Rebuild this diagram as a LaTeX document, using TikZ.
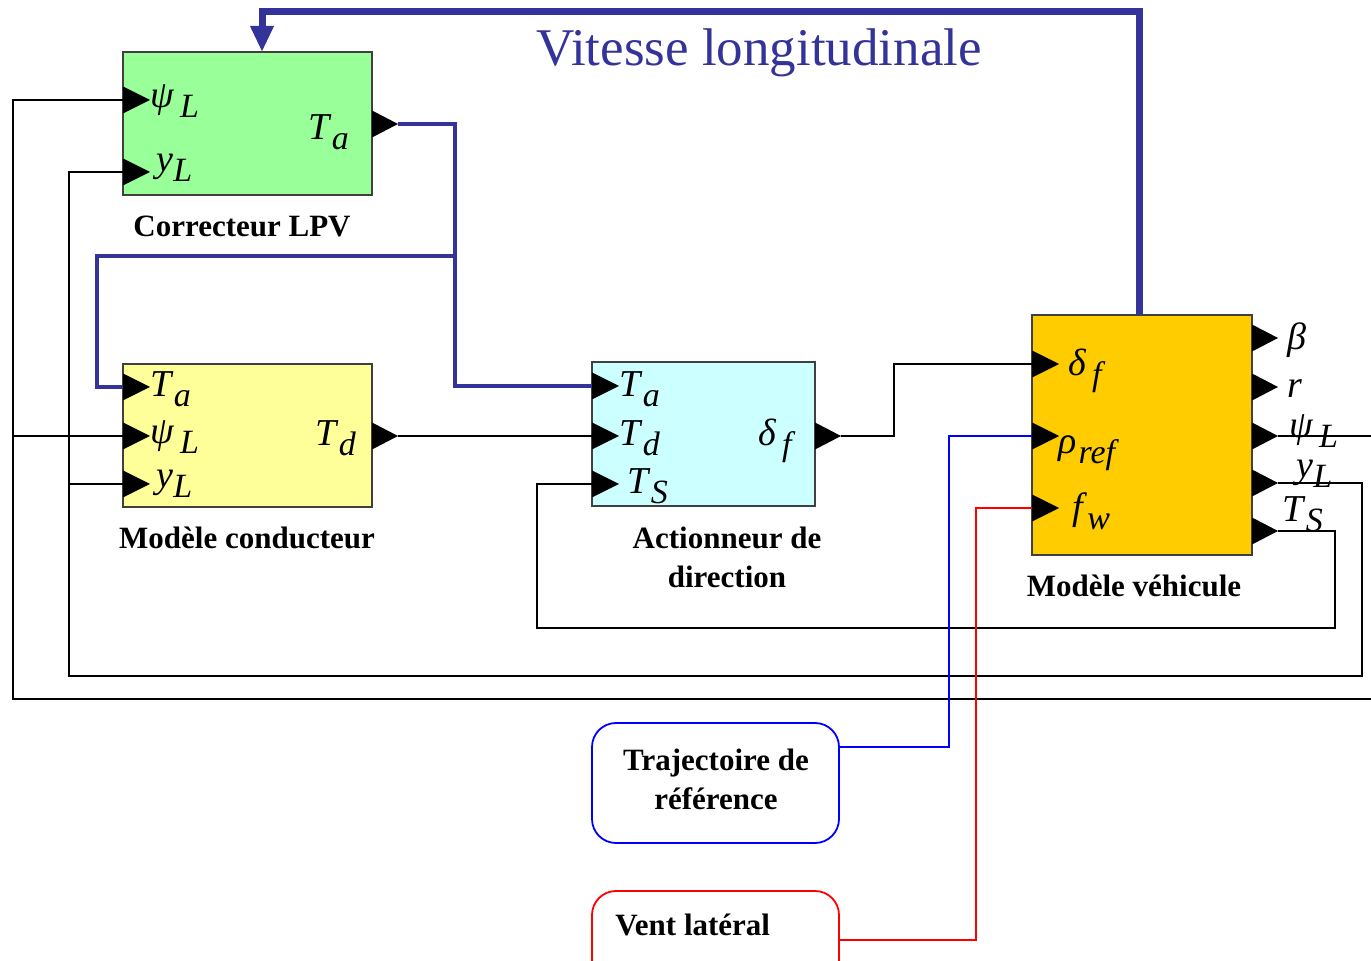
\documentclass[tikz,border=0pt]{standalone}
\usepackage{fontspec}
\setmainfont{Liberation Serif}
\usetikzlibrary{arrows.meta}
\definecolor{cgreen}{HTML}{99FF99}
\definecolor{cyellow}{HTML}{FFFF99}
\definecolor{ccyan}{HTML}{CCFFFF}
\definecolor{corange}{HTML}{FFCC00}
\definecolor{navy}{HTML}{333399}
\definecolor{pblue}{HTML}{0000FF}
\definecolor{pred}{HTML}{FF0000}
\newcommand\ms[2]{\textit{#1}\raisebox{-5pt}{\fontsize{17}{17}\selectfont\textit{#2}}}
\newcommand\pinR[3]{\coordinate (#1) at (#2,#3); \fill (#2,#3-13.5) -- (#2+27,#3) -- (#2,#3+13.5) -- cycle;}
\newcommand\poutR[3]{\coordinate (#1) at (#2+26,#3); \fill (#2,#3-13.5) -- (#2+26,#3) -- (#2,#3+13.5) -- cycle;}
\tikzset{
  blk/.style={draw=black!75, line width=0.8pt, inner sep=0pt, outer sep=0pt},
  srcbox/.style={line width=0.9pt, rounded corners=12pt, inner sep=0pt, outer sep=0pt, minimum width=123.5pt},
  wire/.style={line width=1pt, draw=black},
  bus/.style={line width=2.3pt, draw=navy},
  lbl/.style={font=\fontsize{19}{19}\selectfont, inner sep=0pt, anchor=base west},
  captxt/.style={font=\fontsize{15.5}{19.5}\selectfont\bfseries, inner sep=0pt, align=center}
}
\begin{document}
\begin{tikzpicture}[x=0.5pt,y=-0.5pt]
\useasboundingbox (0,0) rectangle (1371,961);
% blocks
\node[blk, fill=cgreen, minimum width=124.5pt, minimum height=71.5pt] (cor) at (247.5,123.5) {};
\node[blk, fill=cyellow, minimum width=124.5pt, minimum height=71.5pt] (con) at (247.5,435.5) {};
\node[blk, fill=ccyan, minimum width=111.5pt, minimum height=72pt] (act) at (703.5,434) {};
\node[blk, fill=corange, minimum width=110pt, minimum height=120pt] (veh) at (1142,435) {};
\node[srcbox, draw=pblue, minimum height=60pt] (traj) at (715.5,783) {};
\node[srcbox, draw=pred, minimum height=47pt] (vent) at (715.5,938) {};
% captions
\node[captxt] (capcor) at (242,226) {Correcteur LPV};
\node[captxt] (capcon) at (247,538) {Modèle conducteur};
\node[captxt] (capact) at (727,557) {Actionneur de\\direction};
\node[captxt] (capveh) at (1134,586) {Modèle véhicule};
\node[captxt] (captraj) at (716,779) {Trajectoire de\\référence};
\node[captxt, anchor=west] (capvent) at (615,925) {Vent latéral};
\node[font=\fontsize{26.5}{26.5}\selectfont, text=navy, inner sep=0pt, anchor=base] (vit) at (759,66) {Vitesse longitudinale};
% ports
\pinR{cor-psi}{123}{100} \pinR{cor-y}{123}{172} \poutR{cor-Ta}{372}{124}
\pinR{con-Ta}{123}{387} \pinR{con-psi}{123}{436} \pinR{con-y}{123}{484} \poutR{con-Td}{372}{436}
\pinR{act-Ta}{592}{386} \pinR{act-Td}{592}{436} \pinR{act-Ts}{592}{484} \poutR{act-df}{815}{436}
\pinR{veh-df}{1032}{364} \pinR{veh-rho}{1032}{436} \pinR{veh-fw}{1032}{508}
\poutR{veh-b}{1252}{338} \poutR{veh-r}{1252}{387} \poutR{veh-psi}{1252}{436} \poutR{veh-y}{1252}{483} \poutR{veh-Ts}{1252}{531}
% labels
\node[lbl] at (150,108) {\ms{ψ\kern3pt}{L}};
\node[lbl] at (156,172) {\ms{y}{L}};
\node[lbl] at (308,140) {\ms{T}{a}};
\node[lbl] at (150,397) {\ms{T}{a}};
\node[lbl] at (150,444) {\ms{ψ\kern3pt}{L}};
\node[lbl] at (156,488) {\ms{y}{L}};
\node[lbl] at (315,446) {\ms{T}{d}};
\node[lbl] at (619,397) {\ms{T}{a}};
\node[lbl] at (619,446) {\ms{T}{d}};
\node[lbl] at (627,494) {\ms{T}{S}};
\node[lbl] at (758,446) {\ms{δ\kern3pt}{f}};
\node[lbl] at (1068,376) {\ms{δ\kern3pt}{f}};
\node[lbl] at (1058,454) {\ms{ρ\kern1pt}{ref}};
\node[lbl] at (1072,520) {\ms{f}{w}};
\node[lbl] at (1287,350) {\textit{β}};
\node[lbl] at (1287,398) {\textit{r}};
\node[lbl] at (1289,438) {\ms{ψ\kern3pt}{L}};
\node[lbl] at (1296,478) {\ms{y}{L}};
\node[lbl] at (1282,522) {\ms{T}{S}};
% coordinates for free ends / corners
\coordinate (eR1) at (1371,436);
\coordinate (eR2) at (1371,699);
% black wires
\draw[wire] (cor-psi) -- (13,100) |- (eR2);
\draw[wire] (13,436) -- (con-psi);
\draw[wire] (veh-psi) -- (eR1);
\draw[wire] (veh-y) -- (1362,483) |- (69,676) |- (cor-y);
\draw[wire] (69,484) -- (con-y);
\draw[wire] (veh-Ts) -- (1335,531) |- (537,628) |- (act-Ts);
\draw[wire] (con-Td) -- (act-Td);
\draw[wire] (act-df) -- (894,436) |- (veh-df);
% coloured sources
\draw[line width=1pt, pblue] (traj.east |- 0,747) -- (949,747) |- (veh-rho);
\draw[line width=1pt, pred] (vent.east |- 0,940) -- (976,940) |- (veh-fw);
% blue buses
\draw[bus] (cor-Ta) -- (455,124) |- (act-Ta);
\draw[bus] (455,256) -- (97,256) |- (con-Ta);
\draw[line width=3.5pt, navy, -{Triangle[length=13pt,width=11pt]}] (veh.north -| 1139,0) -- (1139,12) -- (262,12) -- (cor.north -| 262,0);
\end{tikzpicture}
\end{document}
